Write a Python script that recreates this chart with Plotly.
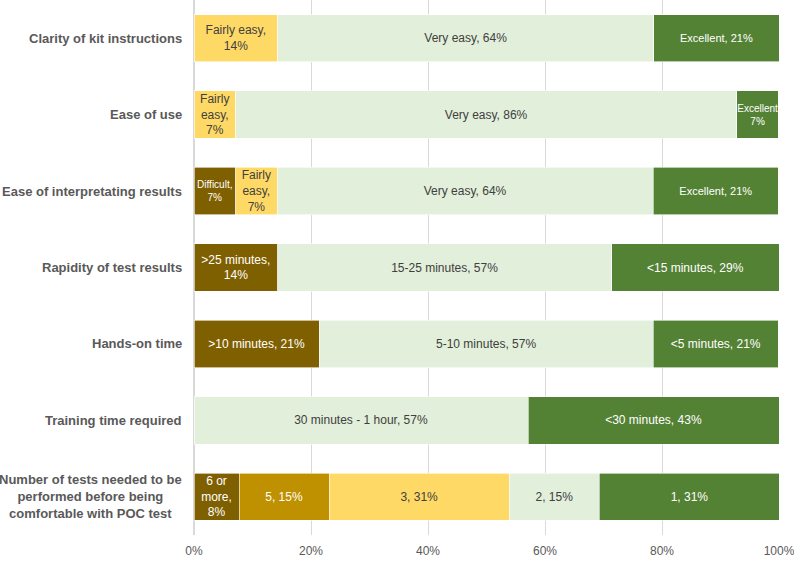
import plotly.graph_objects as go

questions = [
    "Clarity of kit instructions",
    "Ease of use",
    "Ease of interpretating results",
    "Rapidity of test results",
    "Hands-on time",
    "Training time required",
    "Number of tests needed to be<br>performed before being<br>comfortable with POC test",
]

# per-question segment labels (left to right)
seg_labels = [
    ["Fairly easy,<br>14%", "Very easy, 64%", "Excellent, 21%"],
    ["Fairly<br>easy,<br>7%", "Very easy, 86%", "Excellent<br>7%"],
    ["Difficult,<br>7%", "Fairly<br>easy,<br>7%", "Very easy, 64%", "Excellent, 21%"],
    [">25 minutes,<br>14%", "15-25 minutes, 57%", "<15 minutes, 29%"],
    [">10 minutes, 21%", "5-10 minutes, 57%", "<5 minutes, 21%"],
    ["30 minutes - 1 hour, 57%", "<30 minutes, 43%"],
    ["6 or<br>more,<br>8%", "5, 15%", "3, 31%", "2, 15%", "1, 31%"],
]

# per-question segment values (%)
seg_values = [
    [14.3, 64.3, 21.4],
    [7.1, 85.7, 7.1],
    [7.1, 7.1, 64.3, 21.4],
    [14.3, 57.1, 28.6],
    [21.4, 57.1, 21.4],
    [57.1, 42.9],
    [7.7, 15.4, 30.8, 15.4, 30.8],
]

# per-question segment colour level
seg_levels = [
    ["yellow", "light", "green"],
    ["yellow", "light", "green"],
    ["brown", "yellow", "light", "green"],
    ["brown", "light", "green"],
    ["brown", "light", "green"],
    ["light", "green"],
    ["brown", "mustard", "yellow", "light", "green"],
]

seg_fontsize = [
    [12, 12, 11],
    [12, 12, 10],
    [10, 12, 12, 11],
    [12, 12, 12],
    [12, 12, 12],
    [12, 12],
    [12, 12, 12, 12, 12],
]

palette = {
    "brown": "#7F6000",
    "mustard": "#BF9000",
    "yellow": "#FFD966",
    "light": "#E2EFDA",
    "green": "#548235",
}
text_colors = {
    "brown": "white",
    "mustard": "white",
    "yellow": "#404040",
    "light": "#404040",
    "green": "white",
}

FONT = "Liberation Sans, Arial, sans-serif"

fig = go.Figure()
for q, labels, vals, levels, sizes in zip(questions, seg_labels, seg_values, seg_levels, seg_fontsize):
    for lab, v, lev, fs in zip(labels, vals, levels, sizes):
        fig.add_trace(go.Bar(
            y=[q], x=[v], orientation="h",
            marker=dict(color=palette[lev], line=dict(color="white", width=0.6)),
            text=[lab], textposition="inside", insidetextanchor="middle",
            textangle=0, constraintext="none",
            textfont=dict(color=text_colors[lev], size=fs, family=FONT),
            showlegend=False, hoverinfo="skip",
        ))

# category labels as centered multi-line annotations
for q in questions:
    fig.add_annotation(
        xref="paper", x=0, xanchor="right", xshift=-10,
        yref="y", y=q, yanchor="middle",
        text="<b>" + q + "</b>", showarrow=False, align="center",
        font=dict(size=13, color="#595959", family=FONT),
    )

fig.update_layout(
    barmode="stack",
    bargap=0.38,
    width=794, height=561,
    margin=dict(l=194, r=15, t=0, b=26),
    plot_bgcolor="white", paper_bgcolor="white",
    font=dict(family=FONT, color="#595959"),
)
fig.update_xaxes(
    range=[0, 100], tickvals=[0, 20, 40, 60, 80, 100],
    ticktext=["0%", "20%", "40%", "60%", "80%", "100%"],
    showgrid=True, gridcolor="#D9D9D9", gridwidth=1,
    zeroline=True, zerolinecolor="#D9D9D9",
    tickfont=dict(size=12, color="#595959"),
    ticks="outside", tickcolor="rgba(0,0,0,0)", ticklen=5,
    ticklabeloverflow="allow",
    showline=False,
)
fig.update_yaxes(
    categoryorder="array", categoryarray=questions, autorange="reversed",
    showticklabels=False, showgrid=False,
)

fig.write_html("out.html")
